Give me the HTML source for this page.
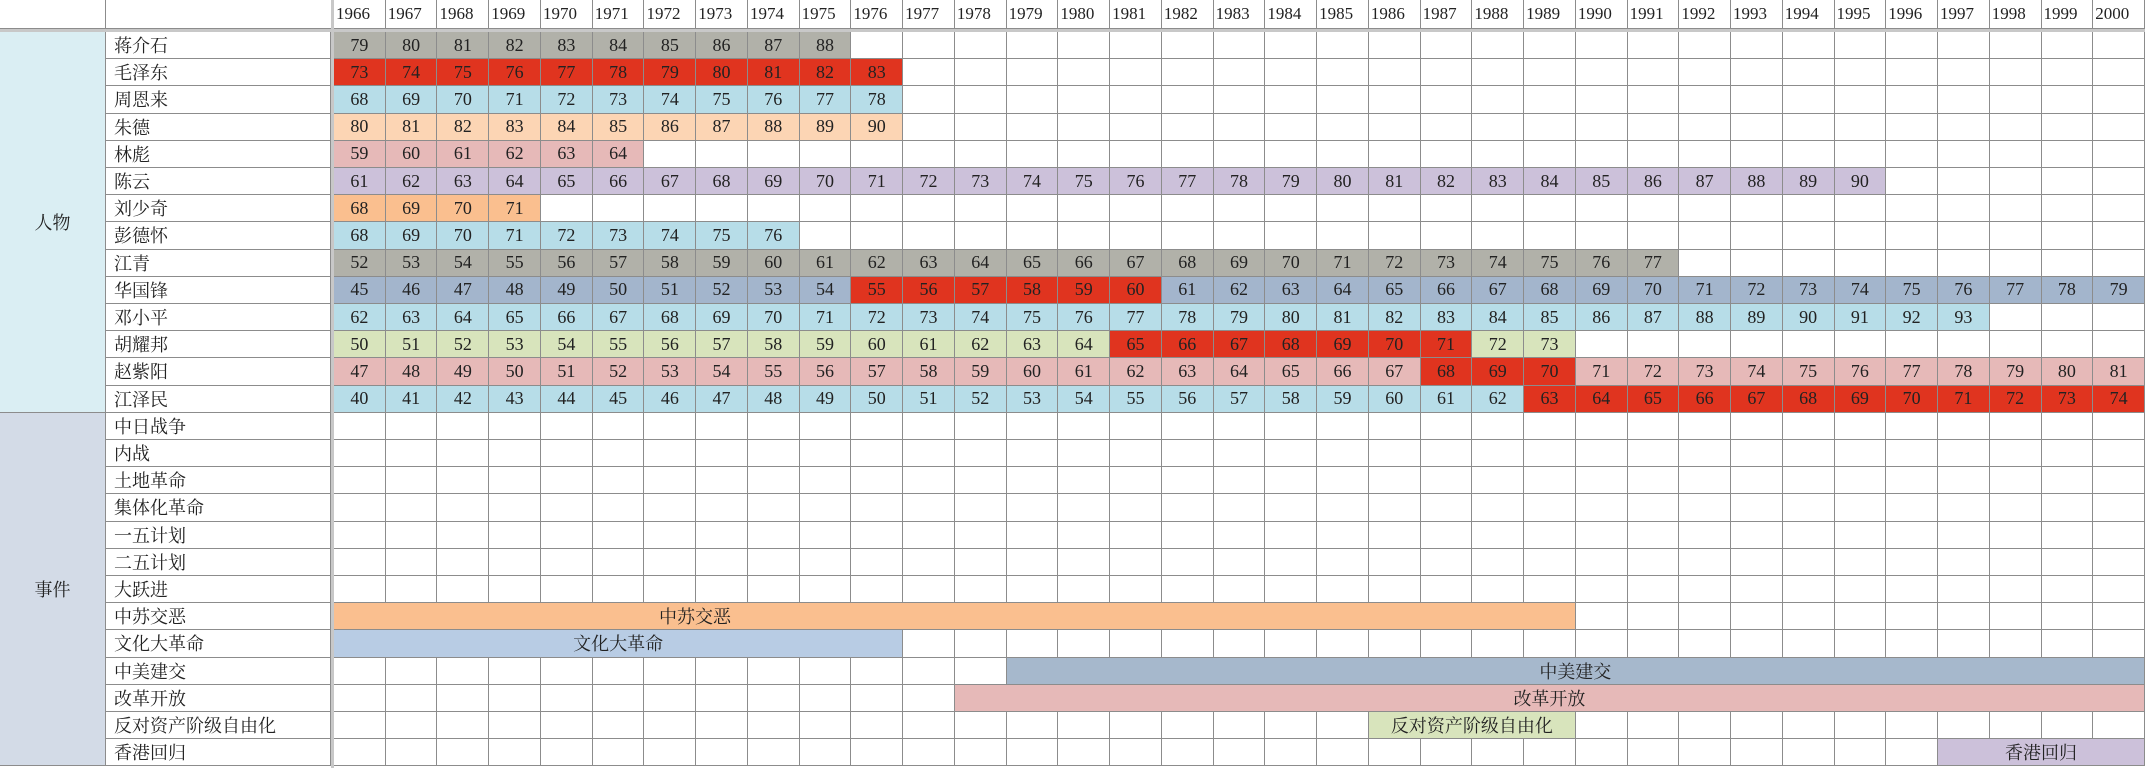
<!DOCTYPE html>
<html><head><meta charset="utf-8">
<style>
html,body{margin:0;padding:0;background:#fff;}
#sheet{position:relative;width:2145px;height:768px;overflow:hidden;background:#fff;font-family:"Liberation Serif","Noto Serif CJK SC",serif;color:#222;}
.c{position:absolute;box-sizing:border-box;border-right:1px solid #8c8c8c;border-bottom:1px solid #8c8c8c;display:flex;align-items:center;justify-content:center;font-size:18px;white-space:nowrap;overflow:visible;}
.n{justify-content:flex-start;padding-left:8px;font-size:18px;}
.y{justify-content:flex-start;padding-left:2px;font-size:17px;}
.bar{position:absolute;box-sizing:border-box;border-bottom:1px solid #8c8c8c;border-right:1px solid #8c8c8c;display:flex;align-items:center;justify-content:center;font-size:18px;white-space:nowrap;}
</style></head><body>
<div id="sheet"></div>
<script>
const years=[];for(let y=1966;y<=2000;y++)years.push(y);
const people=["蒋介石","毛泽东","周恩来","朱德","林彪","陈云","刘少奇","彭德怀","江青","华国锋","邓小平","胡耀邦","赵紫阳","江泽民"];
const startAges=[79,73,68,80,59,61,68,68,52,45,62,50,47,40];
const endYears=[1975,1976,1976,1976,1971,1995,1969,1974,1991,2000,1997,1989,2000,2000];
const personColors=["#b1b1a9","#e0341f","#b7dde8","#fcd5b4","#e6b9b8","#ccc1da","#fabf8f","#b7dde8","#b1b1a9","#a3b5cc","#b7dde8","#d8e4bc","#e6b9b8","#b7dde8"];
const redStart=[0,0,0,0,0,0,0,0,0,1976,0,1981,1987,1989];
const redEnd=[0,0,0,0,0,0,0,0,0,1981,0,1987,1989,2000];
const events=["中日战争","内战","土地革命","集体化革命","一五计划","二五计划","大跃进","中苏交恶","文化大革命","中美建交","改革开放","反对资产阶级自由化","香港回归"];
const evStart=[0,0,0,0,0,0,0,1966,1966,1979,1978,1986,1997];
const evEnd=[0,0,0,0,0,0,0,1989,1976,2000,2000,1989,2000];
const evColors=["","","","","","","","#fabf8f","#b8cce4","#a6b8cc","#e6b9b8","#d8e4bc","#ccc1da"];
const evLabelX=[0,0,0,0,0,0,0,695,0,0,0,0,0];

const S=document.getElementById('sheet');
const X0=334,CW=(2145-334)/35,Y0=32,RH=27.2,HH=29;
const xOf=y=>X0+(y-1966)*CW;
const yOf=r=>Y0+r*RH;
function mk(cls,x,y,w,h,txt,bg){const d=document.createElement('div');d.className=cls;d.style.left=x+'px';d.style.top=y+'px';d.style.width=w+'px';d.style.height=h+'px';if(bg)d.style.background=bg;if(txt!==undefined)d.textContent=txt;S.appendChild(d);return d;}
let h=mk('c',0,0,106,HH,'');
h=mk('c',106,0,227,HH,'');
years.forEach(y=>{const d=mk('c y',xOf(y),0,CW,HH,String(y));});
let t=mk('c',0,HH,2145,3,'','#c8c8c8');t.style.border='none';
let v=mk('c',331,0,3,768,'','#c8c8c8');v.style.border='none';v.style.zIndex=5;
let g=mk('c',0,yOf(0),106,RH*14,'人物','#daeef3');
g=mk('c',0,yOf(14),106,RH*13,'事件','#d3dbe7');
people.forEach((p,i)=>{
  const n=mk('c n',106,yOf(i),225,RH,p);
  years.forEach(y=>{
    let txt='',bg=null;
    if(y<=endYears[i]){txt=String(startAges[i]+(y-1966));bg=personColors[i];if(redStart[i]&&y>=redStart[i]&&y<=redEnd[i])bg='#e0341f';}
    const d=mk('c',xOf(y),yOf(i),CW,RH,txt,bg);
    
    
  });
});
events.forEach((e,i)=>{
  const r=14+i;
  const n=mk('c n',106,yOf(r),225,RH,e);
  years.forEach(y=>{const d=mk('c',xOf(y),yOf(r),CW,RH,'');});
  if(evStart[i]){
    const x=xOf(evStart[i]),w=xOf(evEnd[i])+CW-x;
    const b=mk('bar',x,yOf(r),w,RH,'',evColors[i]);
    
    
    const lbl=document.createElement('span');
    lbl.textContent=e;
    
    
    if(evLabelX[i]){
      b.style.justifyContent='flex-start';
      lbl.style.position='absolute';
      lbl.style.left=(evLabelX[i]-x)+'px';
      lbl.style.transform='translateX(-50%)';
    }
    b.appendChild(lbl);
  }
});
</script>
</body></html>
